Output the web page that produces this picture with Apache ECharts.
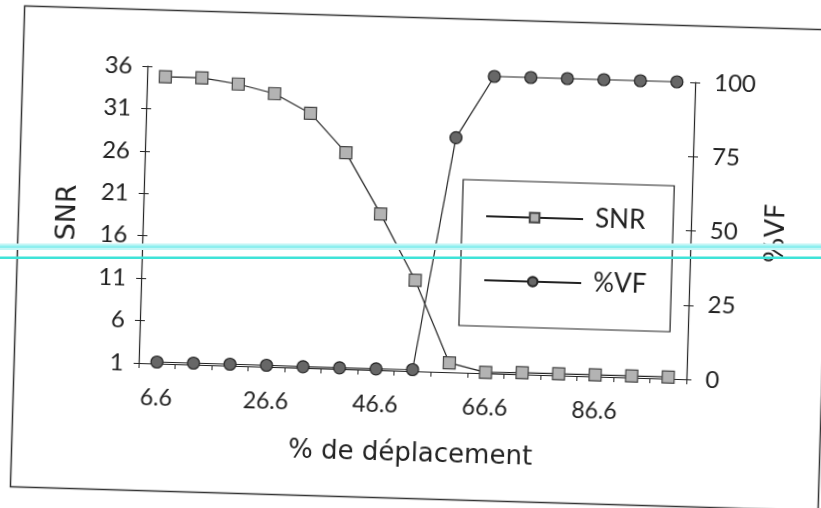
<!DOCTYPE html>
<html>
<head>
<meta charset="utf-8">
<script src="https://cdn.jsdelivr.net/npm/echarts@6/dist/echarts.min.js"></script>
<style>
  html, body { margin: 0; padding: 0; background: #ffffff; overflow: hidden; width: 821px; height: 508px; }
  #chart { position: absolute; left: -20px; top: -16px; width: 861px; height: 540px;
           transform: rotate(1.7deg); transform-origin: 430px 270px; }
  #overlay { position: absolute; left: 0; top: 0; width: 821px; height: 508px; pointer-events: none; }
</style>
</head>
<body>
<div id="chart"></div>
<div id="overlay"></div>
<script>
// ---- data ----
const categories = ['6.6','13.3','20','26.6','33.3','40','46.6','53.3','60','66.6','73.3','80','86.6','93.3','100'];
const snrValues  = [34.8, 34.8, 34.2, 33.2, 31.0, 26.5, 19.4, 11.7, 2.1, 1.1, 1.2, 1.2, 1.2, 1.2, 1.2];
const vfValues   = [0.5, 0.5, 0.5, 0.5, 0.4, 0.4, 0.4, 0.5, 79, 100, 100, 100, 100, 100, 100];
const snrTicks   = [1, 6, 11, 16, 21, 26, 31, 36];
const vfTicks    = [0, 25, 50, 75, 100];
const xTitle = '% de déplacement';
const snrName = 'SNR';
const vfName = '%VF';

const tickFont = 'Lato, "DejaVu Sans", sans-serif';
const titleFont = '"DejaVu Sans", sans-serif';
const ink = '#222';

const chart = echarts.init(document.getElementById('chart'), null, { renderer: 'canvas' });
chart.setOption({
  animation: false,
  backgroundColor: 'transparent',
  grid: { left: 162, top: 90, width: 548, height: 297, containLabel: false },
  graphic: [{
    type: 'rect', silent: true,
    shape: { x: 37.5, y: 33.5, width: 808, height: 481 },
    style: { fill: 'none', stroke: '#333', lineWidth: 1.5 }
  }],
  legend: {
    orient: 'vertical', left: 481, top: 194,
    padding: [23, 25, 33, 23],
    borderColor: ink, borderWidth: 1.2,
    itemWidth: 97, itemHeight: 12, itemGap: 38,
    textStyle: { fontFamily: tickFont, fontSize: 26, color: ink, padding: [0, 0, 0, 7] },
    data: [snrName, vfName]
  },
  xAxis: {
    type: 'category', data: categories, boundaryGap: true,
    axisLine: { show: true, lineStyle: { color: ink, width: 1.2 } },
    axisTick: { show: true, interval: 0, length: 5, lineStyle: { color: ink, width: 1 } },
    axisLabel: { interval: 2, margin: 23, fontFamily: tickFont, fontSize: 23, color: ink },
    splitLine: { show: false },
    name: xTitle, nameLocation: 'middle', nameGap: 70,
    nameTextStyle: { fontFamily: titleFont, fontSize: 26, color: ink }
  },
  yAxis: [
    {
      type: 'value', position: 'left', min: 1, max: 36,
      axisLine: { show: true, lineStyle: { color: ink, width: 1.2 } },
      axisTick: { show: true, length: 5, customValues: snrTicks, lineStyle: { color: ink } },
      axisLabel: { margin: 15, customValues: snrTicks, fontFamily: tickFont, fontSize: 24, color: ink },
      splitLine: { show: false },
      name: snrName, nameLocation: 'middle', nameRotate: 90, nameGap: 62,
      nameTextStyle: { fontFamily: titleFont, fontSize: 27, color: ink }
    },
    {
      type: 'value', position: 'right', min: 0, max: 100, interval: 25,
      axisLine: { show: true, lineStyle: { color: ink, width: 1.2 } },
      axisTick: { show: true, length: 5, lineStyle: { color: ink } },
      axisLabel: { margin: 19, fontFamily: tickFont, fontSize: 24, color: ink },
      splitLine: { show: false },
      name: vfName, nameLocation: 'middle', nameRotate: 90, nameGap: 72,
      nameTextStyle: { fontFamily: titleFont, fontSize: 27, color: ink }
    },
    {
      type: 'value', position: 'left', min: 1, max: 36,
      axisLine: { show: false },
      axisTick: { show: true, inside: true, length: 5, customValues: snrTicks, lineStyle: { color: ink } },
      axisLabel: { show: false }, splitLine: { show: false }
    },
    {
      type: 'value', position: 'right', min: 0, max: 100, interval: 25,
      axisLine: { show: false },
      axisTick: { show: true, inside: true, length: 5, lineStyle: { color: ink } },
      axisLabel: { show: false }, splitLine: { show: false }
    }
  ],
  series: [
    {
      name: snrName, type: 'line', yAxisIndex: 0, data: snrValues,
      symbol: 'rect', symbolSize: 12, clip: false,
      lineStyle: { color: ink, width: 1.2 },
      itemStyle: { color: '#b3b3b3', borderColor: '#444', borderWidth: 1.2 }
    },
    {
      name: vfName, type: 'line', yAxisIndex: 1, data: vfValues,
      symbol: 'circle', symbolSize: 12, clip: false,
      lineStyle: { color: ink, width: 1.2 },
      itemStyle: { color: '#676767', borderColor: '#222', borderWidth: 1.2 }
    }
  ]
});

const overlay = echarts.init(document.getElementById('overlay'), null, { renderer: 'canvas' });
overlay.setOption({
  animation: false,
  backgroundColor: 'transparent',
  graphic: [
    { type: 'rect', silent: true, shape: { x: 0, y: 243.5, width: 821, height: 6.5 }, style: { fill: '#c4f6f6' } },
    { type: 'rect', silent: true, shape: { x: 0, y: 245.5, width: 821, height: 2.5 }, style: { fill: '#8eefef' } },
    { type: 'rect', silent: true, shape: { x: 0, y: 256.5, width: 821, height: 2.5 }, style: { fill: '#3fe3d8' } }
  ]
});
</script>
</body>
</html>
